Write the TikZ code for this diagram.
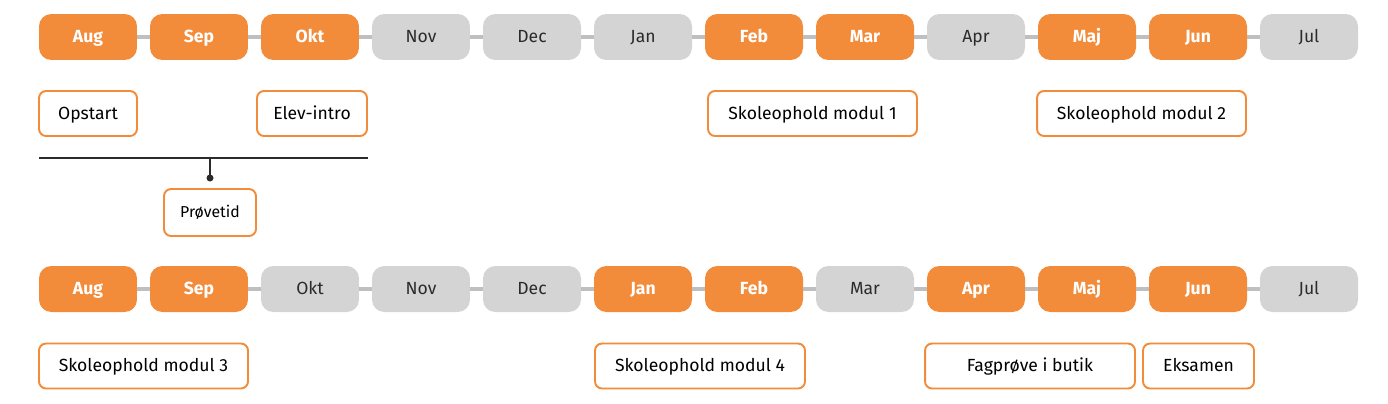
\documentclass[tikz,border=0pt]{standalone}
\usepackage{fontspec}
\setmainfont{Fira Sans}
\definecolor{planorange}{HTML}{F28C3A}
\definecolor{plangray}{HTML}{D4D4D4}
\definecolor{plantext}{HTML}{2B2B2B}
\tikzset{
  month/.style={rounded corners=7pt,minimum width=1.96cm,minimum height=0.92cm,inner sep=0pt,text height=8pt,text depth=1.5pt,font=\fontsize{10}{11}\selectfont},
  on/.style={month,fill=planorange,text=white,font=\fontsize{10}{11}\selectfont\bfseries},
  off/.style={month,fill=plangray,text=plantext},
  link/.style={plangray!90!black,line width=2pt},
  event/.style={draw=planorange,line width=1.1pt,fill=white,rounded corners=4pt,minimum height=0.9cm,inner sep=0pt,text height=8pt,text depth=1.5pt,text=black,font=\fontsize{10}{11}\selectfont},
  bar/.style={plantext,line width=1.1pt},
}
\begin{document}
\begin{tikzpicture}[x=0.02cm,y=-0.02cm]
    \useasboundingbox (0,0) rectangle (1388,403);
    % first year
    \foreach \m/\s [count=\i] in {Aug/on,Sep/on,Okt/on,Nov/off,Dec/off,Jan/off,Feb/on,Mar/on,Apr/off,Maj/on,Jun/on,Jul/off}
        \node[\s] (a\i) at ({88+111*(\i-1)},37) {\m};
    \foreach \i [evaluate=\i as \j using int(\i+1)] in {1,...,11}
        \draw[link] (a\i) -- (a\j);
    \node[event,minimum width=1.96cm] (opstart) at (88,113.5) {Opstart};
    \node[event,minimum width=2.2cm] (intro) at (312,113.5) {Elev-intro};
    \node[event,minimum width=4.18cm] (modul1) at (812.5,113.5) {Skoleophold modul 1};
    \node[event,minimum width=4.18cm] (modul2) at (1141.5,113.5) {Skoleophold modul 2};
    % proevetid
    \coordinate (barl) at (39,158);
    \coordinate (barr) at (368,158);
    \coordinate (barm) at (210,158);
    \coordinate (dot) at (210,178);
    \draw[bar] (barl) -- (barr);
    \draw[bar] (barm) -- (dot);
    \fill[plantext] (dot) circle (3.5);
    \node[event,minimum width=1.84cm,minimum height=0.94cm,text height=7.2pt,font=\fontsize{9}{10}\selectfont] (proeve) at (210,212.5) {Prøvetid};
    % second year
    \foreach \m/\s [count=\i] in {Aug/on,Sep/on,Okt/off,Nov/off,Dec/off,Jan/on,Feb/on,Mar/off,Apr/on,Maj/on,Jun/on,Jul/off}
        \node[\s] (b\i) at ({88+111*(\i-1)},289) {\m};
    \foreach \i [evaluate=\i as \j using int(\i+1)] in {1,...,11}
        \draw[link] (b\i) -- (b\j);
    \node[event,minimum width=4.18cm] (modul3) at (143.5,366) {Skoleophold modul 3};
    \node[event,minimum width=4.2cm] (modul4) at (700,366) {Skoleophold modul 4};
    \node[event,minimum width=4.2cm] (fagproeve) at (1030,366) {Fagprøve i butik};
    \node[event,minimum width=2.22cm] (eksamen) at (1198.5,366) {Eksamen};
\end{tikzpicture}
\end{document}
